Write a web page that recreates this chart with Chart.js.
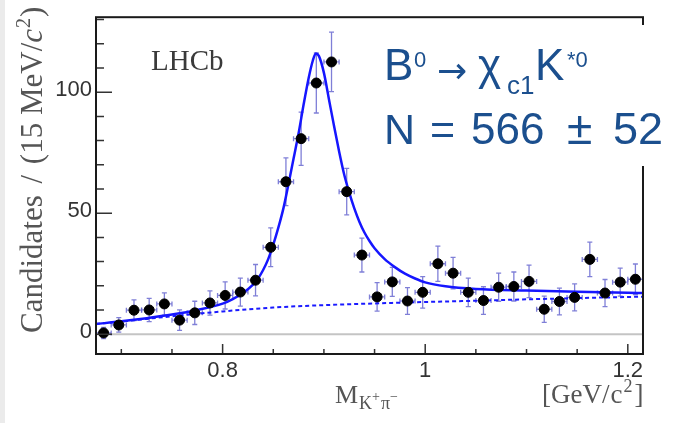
<!DOCTYPE html>
<html>
<head>
<meta charset="utf-8">
<script src="https://cdn.jsdelivr.net/npm/chart.js@4.4.0/dist/chart.umd.min.js"></script>
<style>
  html, body { margin: 0; padding: 0; background: #fff; }
  #wrap { width: 675px; height: 423px; position: relative; }
</style>
</head>
<body>
<div id="wrap"><canvas id="massChart" width="675" height="423"></canvas></div>
<script>
// measured K+pi- mass distribution, 15 MeV bins
const binCenters = [0.6825, 0.6975, 0.7125, 0.7275, 0.7425, 0.7575, 0.7725, 0.7875, 0.8025, 0.8175,
    0.8325, 0.8475, 0.8625, 0.8775, 0.8925, 0.9075, 0.9225, 0.9375, 0.9525, 0.9675,
    0.9825, 0.9975, 1.0125, 1.0275, 1.0425, 1.0575, 1.0725, 1.0875, 1.1025, 1.1175,
    1.1325, 1.1475, 1.1625, 1.1775, 1.1925, 1.2075];
const candidates = [0.5, 3.8, 9.9, 10, 12.5, 5.8, 8.8, 12.9, 16, 17.4,
    22.3, 35.9, 63, 80.8, 103.8, 112.5, 58.9, 32.7, 15.4, 21.6,
    13.7, 17.3, 29.1, 25.2, 17.3, 13.9, 19.4, 19.7, 21.8, 10.3,
    13.5, 15.2, 30.9, 17, 21.5, 22.7];
const candidateErrors = [2.3, 3, 4.3, 4.8, 4.6, 4.2, 4.8, 5, 5.6, 5.8,
    6.5, 8, 9.9, 11, 12.4, 12.3, 9.6, 7, 5.9, 6,
    5.5, 6.5, 7.3, 6.5, 5.9, 5.7, 5.8, 6, 6.7, 5.4,
    5.5, 5.6, 7.1, 5.6, 5.8, 6.3];
const binHalfWidth = 0.0075;

// total fit curve
const fitMass = [0.675, 0.70, 0.725, 0.75, 0.775, 0.80, 0.81, 0.82, 0.83, 0.835,
    0.84, 0.845, 0.85, 0.855, 0.86, 0.865, 0.87, 0.875, 0.88, 0.885,
    0.889, 0.892, 0.895, 0.90, 0.905, 0.91, 0.915, 0.92, 0.925, 0.93,
    0.935, 0.94, 0.945, 0.95, 0.96, 0.97, 0.98, 0.99, 1.00, 1.02,
    1.05, 1.10, 1.15, 1.20, 1.215];
const fitTotal = [4.2, 5.3, 6.6, 8.1, 10.0, 12.6, 14.5, 17, 20.5, 23,
    26.5, 31, 37, 44, 52, 62, 72.5, 83, 95, 106,
    113, 116, 115, 108, 97, 86, 75.5, 66, 58.5, 52,
    46.5, 42, 38.5, 35.5, 31, 27.7, 25, 23, 21.4, 19.8,
    18.7, 18.0, 17.5, 17.1, 17.0];

// background component
const bkgMass = [0.675, 0.70, 0.75, 0.80, 0.85, 0.90, 0.95, 1.00, 1.05, 1.10, 1.15, 1.215];
const bkgTotal = [4.2, 5.2, 7.4, 9.4, 11.0, 12.0, 12.7, 13.3, 13.8, 14.4, 14.9, 15.5];

const xTickValues = [0.8, 1.0, 1.2];
const xMinorTicks = [0.7, 0.75, 0.85, 0.9, 0.95, 1.05, 1.1, 1.15];
const yTickValues = [0, 50, 100];
const yMinorTicks = [10, 20, 30, 40, 60, 70, 80, 90, 110, 120, 130];

const sansFont = "'Liberation Sans', Arial, sans-serif";
const serifFont = "'Liberation Serif', 'Times New Roman', serif";

function txt(ctx, s, x, y, font, color) {
    ctx.font = font;
    ctx.fillStyle = color;
    ctx.fillText(s, x, y);
}

// draws pieces one after the other along the baseline
function run(ctx, pieces, x, y, color) {
    ctx.fillStyle = color;
    pieces.forEach(p => {
        ctx.font = p.f;
        ctx.fillText(p.s, x, y + (p.dy || 0));
        x += ctx.measureText(p.s).width + (p.gap || 0);
    });
}

const errorBarPlugin = {
    id: 'errorBars',
    beforeDatasetsDraw(chart) {
        const ctx = chart.ctx;
        const xs = chart.scales.x, ys = chart.scales.y;
        const area = chart.chartArea;
        ctx.save();
        // zero line
        ctx.strokeStyle = '#c4c4c4';
        ctx.lineWidth = 2;
        ctx.beginPath();
        ctx.moveTo(area.left, ys.getPixelForValue(0));
        ctx.lineTo(area.right, ys.getPixelForValue(0));
        ctx.stroke();

        ctx.strokeStyle = 'rgba(95, 95, 205, 0.8)';
        ctx.lineWidth = 1.3;
        const cap = 2.5;
        for (let i = 0; i < binCenters.length; i++) {
            const px = xs.getPixelForValue(binCenters[i]);
            const py = ys.getPixelForValue(candidates[i]);
            const top = ys.getPixelForValue(candidates[i] + candidateErrors[i]);
            const bot = ys.getPixelForValue(candidates[i] - candidateErrors[i]);
            const l = xs.getPixelForValue(binCenters[i] - binHalfWidth);
            const r = xs.getPixelForValue(binCenters[i] + binHalfWidth);
            ctx.beginPath();
            ctx.moveTo(px, top); ctx.lineTo(px, bot);
            ctx.moveTo(px - cap, top); ctx.lineTo(px + cap, top);
            ctx.moveTo(px - cap, bot); ctx.lineTo(px + cap, bot);
            ctx.moveTo(l, py); ctx.lineTo(r, py);
            ctx.moveTo(l, py - cap); ctx.lineTo(l, py + cap);
            ctx.moveTo(r, py - cap); ctx.lineTo(r, py + cap);
            ctx.stroke();
        }
        ctx.restore();
    }
};

const framePlugin = {
    id: 'frame',
    beforeDraw(chart) {
        const ctx = chart.ctx;
        ctx.save();
        ctx.fillStyle = '#fff';
        ctx.fillRect(0, 0, chart.width, chart.height);
        ctx.fillStyle = '#ebebeb';
        ctx.fillRect(0, 0, 5, chart.height);
        ctx.restore();
    },
    afterDraw(chart) {
        const ctx = chart.ctx;
        const xs = chart.scales.x, ys = chart.scales.y;
        const a = chart.chartArea;
        ctx.save();
        // ticks inside the frame
        ctx.strokeStyle = '#333';
        ctx.lineWidth = 1.5;
        ctx.beginPath();
        xTickValues.forEach(v => { const p = xs.getPixelForValue(v); ctx.moveTo(p, a.bottom); ctx.lineTo(p, a.bottom - 10); });
        xMinorTicks.forEach(v => { const p = xs.getPixelForValue(v); ctx.moveTo(p, a.bottom); ctx.lineTo(p, a.bottom - 5); });
        yTickValues.forEach(v => { const p = ys.getPixelForValue(v); ctx.moveTo(a.left, p); ctx.lineTo(a.left + 16, p); });
        yMinorTicks.forEach(v => { const p = ys.getPixelForValue(v); ctx.moveTo(a.left, p); ctx.lineTo(a.left + 8, p); });
        ctx.stroke();

        // frame
        ctx.strokeStyle = '#1a1a1a';
        ctx.lineWidth = 2;
        ctx.strokeRect(a.left, a.top, a.right - a.left, a.bottom - a.top);

        // text box covering the right frame
        ctx.fillStyle = '#fff';
        ctx.fillRect(376, 25, 299, 141);

        const blue = '#1b4f8e';
        ctx.textAlign = 'left';
        ctx.textBaseline = 'alphabetic';
        txt(ctx, 'B', 384, 80, '44px ' + sansFont, blue);
        txt(ctx, '0', 414, 67, '22px ' + sansFont, blue);
        txt(ctx, '\u2192', 437, 83, "36px 'DejaVu Sans', sans-serif", blue);
        txt(ctx, '\u03c7', 478, 80, '44px ' + sansFont, blue);
        txt(ctx, 'c1', 507, 94, '26px ' + sansFont, blue);
        txt(ctx, 'K', 535, 80, '44px ' + sansFont, blue);
        txt(ctx, '*0', 567, 67, '22px ' + sansFont, blue);

        txt(ctx, 'N', 384, 144, '43px ' + sansFont, blue);
        txt(ctx, '=', 430, 144, '43px ' + sansFont, blue);
        txt(ctx, '566', 471, 144, '44px ' + sansFont, blue);
        txt(ctx, '\u00b1', 567, 144, '46px ' + sansFont, blue);
        txt(ctx, '52', 613, 144, '45px ' + sansFont, blue);

        // experiment label
        txt(ctx, 'LHCb', 151, 70, '29px ' + serifFont, '#3a3a3a');

        // x axis title
        const grey = '#555';
        run(ctx, [
            { s: 'M', f: '26px ' + serifFont, gap: 1 },
            { s: 'K', f: '18px ' + serifFont, dy: 6 },
            { s: '+', f: '14px ' + serifFont, dy: -2, gap: 1 },
            { s: '\u03c0', f: '18px ' + serifFont, dy: 6 },
            { s: '\u2212', f: '14px ' + serifFont, dy: -2 }
        ], 335, 403, grey);
        run(ctx, [
            { s: '[GeV/', f: '27px ' + serifFont, gap: 1 },
            { s: 'c', f: '27px ' + serifFont, gap: 1 },
            { s: '2', f: '18px ' + serifFont, dy: -11, gap: 2 },
            { s: ']', f: '27px ' + serifFont }
        ], 542, 403, grey);

        // y axis title, rotated
        ctx.translate(42, 333);
        ctx.rotate(-Math.PI / 2);
        run(ctx, [
            { s: 'Candidates', f: '31px ' + serifFont, gap: 4 },
            { s: ' / ', f: '31px ' + serifFont, gap: 3 },
            { s: '(15 MeV/', f: '31px ' + serifFont },
            { s: 'c', f: 'italic 31px ' + serifFont, gap: 1 },
            { s: '2', f: '20px ' + serifFont, dy: -12, gap: 1 },
            { s: ')', f: '31px ' + serifFont }
        ], 0, 0, grey);
        ctx.restore();
    }
};

const ctx = document.getElementById('massChart').getContext('2d');
new Chart(ctx, {
    type: 'scatter',
    data: {
        datasets: [
            {
                label: 'Data',
                data: binCenters.map((m, i) => ({ x: m, y: candidates[i] })),
                backgroundColor: '#000',
                borderColor: '#000',
                pointRadius: 5,
                showLine: false
            },
            {
                label: 'Total fit',
                data: fitMass.map((m, i) => ({ x: m, y: fitTotal[i] })),
                borderColor: '#1616ff',
                borderWidth: 2.5,
                pointRadius: 0,
                showLine: true,
                fill: false,
                cubicInterpolationMode: 'monotone'
            },
            {
                label: 'Background',
                data: bkgMass.map((m, i) => ({ x: m, y: bkgTotal[i] })),
                borderColor: '#1a1aff',
                borderWidth: 2,
                borderDash: [4, 3],
                pointRadius: 0,
                showLine: true,
                fill: false,
                cubicInterpolationMode: 'monotone'
            }
        ]
    },
    options: {
        responsive: false,
        animation: false,
        layout: { padding: { top: 13, right: 32, left: 0, bottom: 0 } },
        scales: {
            x: {
                type: 'linear',
                min: 0.675,
                max: 1.215,
                afterBuildTicks(scale) { scale.ticks = xTickValues.map(v => ({ value: v })); },
                afterFit(scale) { scale.height = 69; },
                grid: { display: false, drawTicks: false },
                border: { display: false },
                ticks: {
                    padding: 4,
                    color: '#333',
                    font: { family: sansFont, size: 22 },
                    callback: v => String(v)
                }
            },
            y: {
                type: 'linear',
                min: -8.2,
                max: 131,
                afterBuildTicks(scale) { scale.ticks = yTickValues.map(v => ({ value: v })); },
                afterFit(scale) { scale.width = 96; },
                grid: { display: false, drawTicks: false },
                border: { display: false },
                ticks: {
                    padding: 4,
                    labelOffset: -2,
                    color: '#333',
                    font: { family: sansFont, size: 22 },
                    callback: v => String(v)
                }
            }
        },
        plugins: {
            legend: { display: false },
            tooltip: { enabled: false }
        }
    },
    plugins: [errorBarPlugin, framePlugin]
});
</script>
</body>
</html>
